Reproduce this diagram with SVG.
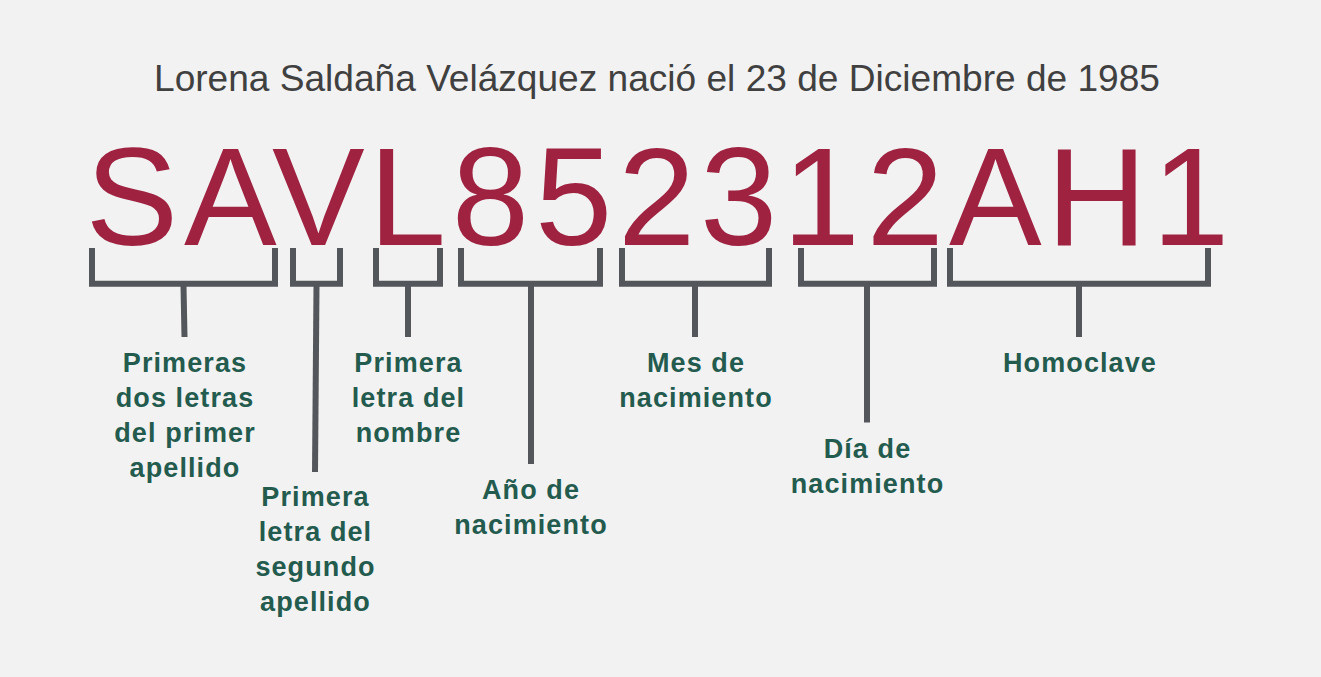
<svg xmlns="http://www.w3.org/2000/svg" width="1321" height="677" viewBox="0 0 1321 677">
<style>
.title{font-family:"Liberation Sans",Arial,sans-serif;font-size:37.1px;fill:#404040}
.code{font-family:"Liberation Sans",Arial,sans-serif;font-size:139px;fill:#9F2241}
.lbl{font-family:"Liberation Sans",Arial,sans-serif;font-size:27px;font-weight:bold;fill:#235B4E;text-anchor:middle;letter-spacing:1.1px}
.br{fill:none;stroke:#53565A;stroke-width:6;stroke-linejoin:miter;stroke-linecap:butt}
</style>
<rect width="1321" height="677" fill="#F2F2F2"/>
<text id="title" class="title" x="657" y="91" text-anchor="middle">Lorena Saldaña Velázquez nació el 23 de Diciembre de 1985</text>
<text id="code" class="code" y="245" x="85.4 184 272 368.8 451.7 535 618 700 782.6 866.6 949 1046.6 1152">SAVL852312AH1</text>
<g id="connectors">
<path class="br" d="M92,248 V283.7 H275 V248"/>
<path class="br" d="M293,248 V283.7 H340 V248"/>
<path class="br" d="M376,248 V283.7 H440 V248"/>
<path class="br" d="M461,248 V283.7 H600 V248"/>
<path class="br" d="M622,248 V283.7 H769 V248"/>
<path class="br" d="M801,248 V283.7 H934 V248"/>
<path class="br" d="M950,248 V283.7 H1208 V248"/>
<path class="br" d="M183.5,286 L184.5,337"/>
<path class="br" d="M316.5,286 L315,472"/>
<path class="br" d="M408,286 V337"/>
<path class="br" d="M531,286 V464"/>
<path class="br" d="M695,286 V337"/>
<path class="br" d="M867,286 V422.5"/>
<path class="br" d="M1079,286 V337"/>
</g>
<g id="n1"><text class="lbl" x="185" y="371.7">Primeras<tspan x="185" dy="35">dos letras</tspan><tspan x="185" dy="35">del primer</tspan><tspan x="185" dy="35">apellido</tspan></text></g>
<g id="n2"><text class="lbl" x="315.5" y="506">Primera<tspan x="315.5" dy="35">letra del</tspan><tspan x="315.5" dy="35">segundo</tspan><tspan x="315.5" dy="35">apellido</tspan></text></g>
<g id="n3"><text class="lbl" x="408.5" y="371.7">Primera<tspan x="408.5" dy="35">letra del</tspan><tspan x="408.5" dy="35">nombre</tspan></text></g>
<g id="n4"><text class="lbl" x="531" y="499.3">Año de<tspan x="531" dy="35">nacimiento</tspan></text></g>
<g id="n5"><text class="lbl" x="696" y="371.7">Mes de<tspan x="696" dy="35">nacimiento</tspan></text></g>
<g id="n6"><text class="lbl" x="867.5" y="458.3">Día de<tspan x="867.5" dy="35">nacimiento</tspan></text></g>
<g id="n7"><text class="lbl" x="1080" y="371.7">Homoclave</text></g>
</svg>
